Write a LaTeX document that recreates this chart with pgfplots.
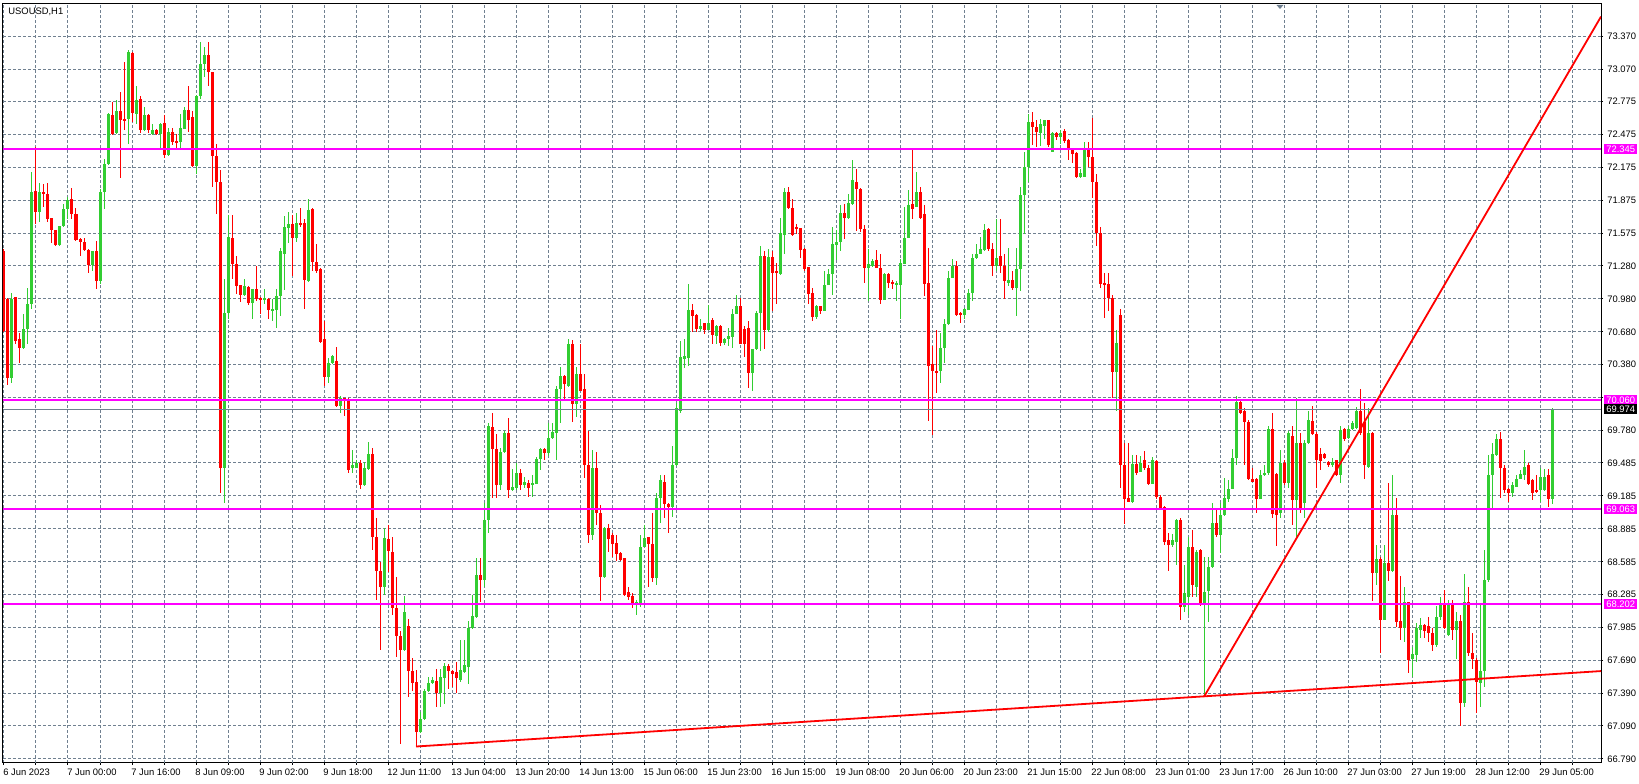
\documentclass[border=0pt]{standalone}
\usepackage{fontspec}
\setmainfont{Liberation Sans}
\usepackage{pgfplots}
\usepackage{pgfplotstable}
\pgfplotsset{compat=1.18}

\definecolor{mtgrid}{RGB}{112,128,144}
\definecolor{mtgreen}{RGB}{50,205,50}
\definecolor{mtred}{RGB}{255,0,0}
\definecolor{mtmag}{RGB}{255,0,255}

% USOUSD H1 bars: index, open, high, low, close
\pgfplotstableread{
i o h l c
0 71.412 71.435 70.674 70.687
1 70.982 70.991 70.198 70.257
2 70.257 71.036 70.212 70.982
3 70.996 71.000 70.574 70.597
4 70.619 70.674 70.393 70.529
5 70.529 70.846 70.520 70.710
6 70.710 71.082 70.574 70.937
7 70.937 72.137 70.891 71.956
8 71.965 72.364 71.661 71.775
9 71.775 72.033 71.684 71.956
10 71.956 72.024 71.820 71.933
11 71.933 72.033 71.684 71.707
12 71.716 71.720 71.489 71.607
13 71.607 71.610 71.458 71.471
14 71.471 71.645 71.465 71.639
15 71.639 71.843 71.635 71.797
16 71.797 71.911 71.707 71.879
17 71.888 71.988 71.707 71.752
18 71.752 71.806 71.503 71.516
19 71.525 71.530 71.367 71.503
20 71.503 71.534 71.420 71.426
21 71.426 71.430 71.217 71.290
22 71.290 71.415 71.231 71.412
23 71.412 71.503 71.072 71.140
24 71.140 71.979 71.118 71.956
25 71.956 72.250 71.797 72.205
26 72.205 72.668 72.196 72.659
27 72.659 72.772 72.469 72.478
28 72.487 72.795 72.480 72.695
29 72.695 72.863 72.078 72.614
30 72.614 73.135 72.514 72.605
31 72.614 73.248 72.387 73.225
32 73.216 73.225 72.591 72.668
33 72.668 72.922 72.568 72.795
34 72.804 72.831 72.487 72.514
35 72.514 72.727 72.510 72.659
36 72.659 72.668 72.487 72.514
37 72.478 72.577 72.470 72.514
38 72.514 72.523 72.470 72.478
39 72.478 72.580 72.341 72.577
40 72.577 72.659 72.259 72.287
41 72.287 72.532 72.280 72.500
42 72.500 72.532 72.378 72.409
43 72.418 72.478 72.350 72.400
44 72.409 72.668 72.350 72.532
45 72.532 72.727 72.525 72.704
46 72.704 72.922 72.500 72.614
47 72.636 72.695 72.183 72.192
48 72.192 72.840 72.114 72.831
49 72.831 73.316 72.804 73.121
50 73.121 73.270 72.999 73.202
51 73.202 73.316 72.922 73.044
52 73.044 73.050 72.001 72.282
53 72.282 72.387 71.752 72.047
54 72.047 72.151 69.214 69.441
55 69.441 71.163 69.124 70.855
56 70.855 71.743 70.801 71.548
57 71.534 71.743 71.163 71.299
58 71.299 71.367 71.027 71.095
59 71.104 71.110 70.950 71.018
60 71.018 71.163 71.004 71.095
61 71.086 71.095 70.928 70.946
62 70.946 71.075 70.801 71.072
63 71.072 71.276 70.959 70.982
64 70.991 70.995 70.846 70.973
65 70.973 71.072 70.937 70.991
66 70.982 70.986 70.801 70.878
67 70.869 70.982 70.778 70.891
68 70.878 71.072 70.719 71.004
69 71.004 71.444 70.823 71.412
70 71.390 71.739 71.063 71.639
71 71.625 71.775 71.489 71.661
72 71.661 71.743 71.190 71.534
73 71.534 71.761 71.503 71.670
74 71.670 71.806 71.635 71.652
75 71.670 71.707 70.891 71.154
76 71.140 71.888 71.135 71.788
77 71.797 71.806 71.231 71.313
78 71.313 71.480 71.217 71.231
79 71.254 71.263 70.574 70.583
80 70.610 70.778 70.189 70.266
81 70.266 70.438 70.212 70.393
82 70.393 70.474 70.385 70.461
83 70.415 70.538 70.000 70.007
84 70.007 70.098 69.940 70.075
85 70.075 70.080 69.917 70.053
86 70.062 70.075 69.396 69.419
87 69.441 69.600 69.396 69.464
88 69.441 69.509 69.435 69.487
89 69.487 69.509 69.251 69.282
90 69.282 69.496 69.275 69.441
91 69.432 69.677 69.425 69.568
92 69.568 69.622 68.693 68.816
93 68.816 68.988 68.240 68.499
94 68.499 68.580 67.786 68.354
95 68.354 68.897 68.286 68.807
96 68.798 68.920 68.489 68.680
97 68.680 68.807 68.104 68.163
98 68.163 68.444 67.719 67.909
99 67.909 67.955 66.926 67.786
100 67.786 68.272 67.773 68.127
101 68.000 68.068 67.356 67.592
102 67.592 67.710 67.411 67.483
103 67.492 67.605 66.903 67.039
104 67.039 67.220 67.030 67.152
105 67.152 67.424 67.145 67.411
106 67.411 67.537 67.405 67.483
107 67.483 67.537 67.478 67.514
108 67.501 67.605 67.265 67.388
109 67.388 67.605 67.265 67.537
110 67.528 67.664 67.288 67.637
111 67.637 67.650 67.424 67.592
112 67.592 67.597 67.447 67.560
113 67.583 67.673 67.393 67.528
114 67.514 67.877 67.492 67.605
115 67.583 67.877 67.574 67.650
116 67.628 68.045 67.469 67.981
117 67.981 68.286 67.975 68.090
118 68.081 68.625 68.075 68.467
119 68.467 68.625 68.217 68.421
120 68.421 69.124 68.354 68.965
121 68.965 69.849 68.852 69.826
122 69.813 69.940 69.169 69.613
123 69.613 69.749 69.169 69.282
124 69.282 69.622 69.237 69.586
125 69.586 69.781 69.580 69.758
126 69.758 69.894 69.169 69.237
127 69.237 69.432 69.230 69.269
128 69.260 69.487 69.237 69.396
129 69.396 69.432 69.237 69.282
130 69.282 69.359 69.260 69.314
131 69.305 69.328 69.178 69.260
132 69.282 69.373 69.178 69.305
133 69.296 69.541 69.290 69.523
134 69.523 69.622 69.419 69.609
135 69.609 69.622 69.509 69.577
136 69.577 69.849 69.554 69.713
137 69.713 69.849 69.708 69.767
138 69.758 70.189 69.509 70.157
139 70.157 70.361 69.849 70.279
140 70.279 70.285 70.066 70.202
141 70.189 70.610 70.180 70.565
142 70.565 70.610 69.858 70.021
143 70.021 70.356 69.903 70.293
144 70.293 70.565 70.140 70.143
145 70.157 70.293 69.351 69.464
146 69.464 69.781 68.761 68.829
147 68.829 69.600 68.784 69.441
148 69.441 69.586 68.920 69.033
149 69.033 69.101 68.226 68.444
150 68.444 68.906 68.440 68.897
151 68.897 68.933 68.671 68.798
152 68.829 68.852 68.625 68.752
153 68.761 68.829 68.589 68.662
154 68.662 68.671 68.589 68.603
155 68.616 68.620 68.272 68.286
156 68.308 68.354 68.240 68.263
157 68.272 68.299 68.163 68.195
158 68.195 68.240 68.104 68.217
159 68.195 68.829 68.172 68.725
160 68.725 68.920 68.720 68.807
161 68.807 68.816 68.354 68.752
162 68.752 69.033 68.399 68.435
163 68.435 69.214 68.376 69.169
164 69.169 69.373 68.943 69.328
165 69.314 69.373 68.988 69.115
166 69.115 69.120 68.852 69.088
167 69.088 69.645 68.997 69.464
168 69.464 70.030 69.459 69.985
169 69.962 70.597 69.940 70.447
170 70.438 70.619 70.347 70.461
171 70.447 71.118 70.370 70.882
172 70.882 70.937 70.674 70.823
173 70.837 70.840 70.674 70.710
174 70.710 70.801 70.687 70.733
175 70.756 70.765 70.665 70.701
176 70.701 70.928 70.695 70.765
177 70.792 70.810 70.574 70.656
178 70.642 70.740 70.574 70.733
179 70.733 70.740 70.551 70.574
180 70.574 70.625 70.560 70.619
181 70.619 70.719 70.551 70.642
182 70.628 70.891 70.529 70.846
183 70.846 71.018 70.840 70.914
184 70.914 70.991 70.565 70.574
185 70.710 70.733 70.447 70.574
186 70.719 70.778 70.166 70.302
187 70.302 70.525 70.143 70.520
188 70.520 70.869 70.515 70.855
189 70.855 71.467 70.506 71.367
190 71.367 71.412 70.520 70.701
191 70.701 71.435 70.674 71.358
192 71.358 71.412 70.869 71.217
193 71.231 71.308 70.937 71.217
194 71.208 71.716 71.195 71.580
195 71.562 71.988 71.390 71.956
196 71.956 72.001 71.797 71.806
197 71.806 71.888 71.548 71.562
198 71.639 71.661 71.571 71.616
199 71.625 71.630 71.353 71.426
200 71.435 71.444 71.231 71.254
201 71.267 71.270 70.937 71.027
202 71.036 71.082 70.778 70.810
203 70.810 70.920 70.801 70.914
204 70.914 70.920 70.846 70.869
205 70.869 71.231 70.865 71.109
206 71.109 71.254 71.104 71.208
207 71.208 71.639 71.018 71.480
208 71.471 71.607 71.335 71.503
209 71.503 71.834 71.412 71.761
210 71.761 71.843 71.525 71.716
211 71.716 71.933 71.710 71.852
212 71.843 72.242 71.838 72.060
213 72.047 72.160 71.594 71.979
214 71.979 71.988 71.594 71.616
215 71.616 71.652 71.127 71.263
216 71.263 71.435 70.959 71.299
217 71.276 71.344 71.270 71.322
218 71.335 71.426 71.258 71.263
219 71.263 71.390 70.937 70.973
220 70.973 71.215 70.968 71.208
221 71.208 71.217 71.082 71.127
222 71.136 71.154 71.072 71.118
223 71.109 71.140 70.959 71.127
224 71.109 71.344 70.801 71.308
225 71.299 71.820 71.295 71.534
226 71.534 71.970 71.530 71.834
227 71.843 72.341 71.707 71.797
228 71.820 72.137 71.815 71.956
229 71.956 72.001 71.712 71.716
230 71.752 71.834 71.004 71.118
231 71.127 71.444 69.872 70.370
232 70.384 70.551 69.736 70.325
233 70.325 70.701 70.121 70.311
234 70.325 70.665 70.212 70.529
235 70.529 70.801 70.393 70.747
236 70.747 71.231 70.742 71.172
237 71.172 71.344 71.168 71.276
238 71.276 71.322 70.823 70.837
239 70.855 70.860 70.765 70.837
240 70.837 70.895 70.801 70.891
241 70.882 71.072 70.878 71.036
242 71.036 71.390 70.959 71.353
243 71.353 71.480 71.348 71.390
244 71.390 71.548 71.385 71.435
245 71.426 71.661 71.420 71.607
246 71.616 71.625 71.412 71.435
247 71.435 71.489 71.190 71.276
248 71.276 71.707 71.231 71.353
249 71.367 71.707 71.217 71.276
250 71.276 71.390 70.982 71.140
251 71.127 71.444 71.095 71.154
252 71.154 71.231 71.063 71.082
253 71.082 71.444 70.823 71.254
254 71.254 72.001 71.050 71.924
255 71.924 72.319 71.571 72.183
256 72.183 72.659 72.047 72.591
257 72.591 72.681 72.378 72.545
258 72.545 72.614 72.364 72.500
259 72.487 72.614 72.373 72.568
260 72.559 72.614 72.432 72.605
261 72.605 72.614 72.364 72.378
262 72.319 72.500 72.315 72.487
263 72.487 72.500 72.427 72.455
264 72.455 72.514 72.387 72.487
265 72.514 72.523 72.396 72.423
266 72.423 72.432 72.242 72.332
267 72.350 72.355 72.215 72.296
268 72.305 72.319 72.078 72.092
269 72.092 72.160 72.078 72.124
270 72.092 72.409 72.088 72.350
271 72.350 72.409 72.183 72.273
272 72.273 72.622 71.897 72.047
273 72.047 72.114 71.458 71.580
274 71.580 71.639 71.082 71.118
275 71.127 71.217 70.810 71.109
276 71.118 71.217 70.869 70.991
277 70.991 71.018 70.075 70.311
278 70.311 70.701 69.962 70.574
279 70.837 70.891 69.260 69.464
280 69.464 69.668 68.933 69.160
281 69.169 69.668 69.130 69.133
282 69.133 69.554 69.124 69.478
283 69.478 69.554 69.373 69.396
284 69.405 69.554 69.400 69.487
285 69.509 69.600 69.419 69.441
286 69.441 69.464 69.282 69.296
287 69.296 69.541 69.290 69.509
288 69.509 69.515 69.155 69.178
289 69.178 69.192 69.056 69.079
290 69.088 69.092 68.739 68.770
291 68.784 68.852 68.507 68.739
292 68.739 68.843 68.716 68.784
293 68.761 68.979 68.553 68.965
294 68.965 68.988 68.059 68.172
295 68.172 68.557 68.127 68.299
296 68.263 68.807 68.104 68.716
297 68.716 68.874 68.263 68.376
298 68.354 68.693 68.263 68.671
299 68.693 68.700 68.181 68.195
300 68.195 68.625 67.356 68.308
301 68.317 68.625 68.036 68.535
302 68.535 69.124 68.530 68.943
303 68.943 69.056 68.816 68.829
304 68.829 69.124 68.671 69.010
305 69.010 69.350 69.005 69.169
306 69.160 69.328 69.133 69.251
307 69.251 69.613 69.245 69.532
308 69.532 70.098 69.464 70.039
309 70.039 70.053 69.931 69.940
310 69.962 69.985 69.464 69.858
311 69.858 69.872 69.328 69.342
312 69.342 69.441 69.310 69.314
313 69.342 69.350 69.033 69.160
314 69.160 69.419 69.155 69.373
315 69.373 69.464 69.368 69.396
316 69.396 69.826 69.373 69.795
317 69.795 69.940 68.988 69.024
318 69.387 69.396 68.725 69.010
319 69.033 69.600 68.988 69.487
320 69.487 69.509 69.282 69.305
321 69.305 69.781 69.260 69.758
322 69.736 69.826 68.920 69.146
323 69.146 70.075 68.807 69.668
324 69.668 69.758 69.033 69.079
325 69.124 69.690 68.988 69.668
326 69.668 69.962 69.660 69.872
327 69.872 70.007 69.745 69.749
328 69.749 69.767 69.260 69.509
329 69.568 69.622 69.419 69.509
330 69.568 69.577 69.523 69.532
331 69.496 69.500 69.450 69.464
332 69.464 69.532 69.450 69.496
333 69.509 69.515 69.368 69.373
334 69.373 69.826 69.305 69.781
335 69.795 69.804 69.690 69.704
336 69.713 69.826 69.708 69.795
337 69.795 69.872 69.790 69.849
338 69.804 69.994 69.800 69.962
339 69.962 70.157 69.736 69.758
340 69.858 70.030 69.342 69.464
341 69.450 69.985 69.441 69.758
342 69.758 69.767 68.226 68.480
343 68.480 68.738 68.376 68.616
344 68.616 68.625 67.755 68.059
345 68.059 68.738 68.055 68.571
346 68.571 69.305 68.408 68.499
347 68.499 69.373 68.489 69.010
348 69.010 69.169 67.991 68.036
349 68.045 68.453 67.877 67.981
350 67.981 68.354 67.855 68.217
351 68.217 68.220 67.574 67.696
352 67.696 67.809 67.537 67.741
353 67.741 68.027 67.673 67.981
354 67.968 68.072 67.891 68.013
355 68.013 68.020 67.891 67.955
356 68.000 68.081 67.855 67.936
357 67.936 67.981 67.773 67.832
358 67.832 68.181 67.809 68.081
359 68.081 68.263 68.059 68.195
360 68.195 68.331 67.977 67.981
361 67.923 68.240 67.909 68.208
362 68.208 68.240 67.877 67.968
363 67.968 68.127 67.696 68.045
364 68.045 68.104 67.093 67.302
365 67.302 68.480 67.265 68.217
366 68.217 68.354 67.728 67.755
367 67.755 67.936 67.605 67.696
368 67.696 67.710 67.211 67.492
369 67.483 68.208 67.265 67.592
370 67.592 68.693 67.447 68.421
371 68.421 69.554 68.399 69.373
372 69.373 69.668 69.056 69.568
373 69.554 69.749 69.550 69.704
374 69.704 69.767 69.169 69.441
375 69.441 69.464 69.214 69.237
376 69.251 69.260 69.133 69.214
377 69.214 69.314 69.178 69.282
378 69.269 69.373 69.265 69.342
379 69.342 69.419 69.337 69.387
380 69.373 69.600 69.328 69.450
381 69.464 69.487 69.282 69.296
382 69.328 69.342 69.146 69.214
383 69.237 69.373 69.214 69.223
384 69.237 69.441 69.133 69.359
385 69.237 69.432 69.230 69.359
386 69.373 69.432 69.088 69.160
387 69.160 69.985 69.115 69.974
}\candles

\pgfplotsset{
  candle/.style n args={3}{draw=none, no markers, forget plot,
    restrict expr to domain={\thisrow{c}-\thisrow{o}}{#2},
    error bars/.cd, y dir=both, y explicit, error mark=none,
    error bar style={draw=#1, line width=#3}},
}

\begin{document}
\begin{tikzpicture}[font=\fontsize{4.7}{5.6}\selectfont]
\begin{axis}[
  scale only axis,
  width=799pt, height=379.5pt,
  xmin=-0.25, xmax=399.25,
  ymin=66.753, ymax=73.665,
  axis line style={black, line width=0.5pt},
  tick align=outside,
  xtick pos=bottom, ytick pos=right,
  yticklabel pos=right,
  major tick length=1pt,
  tick style={black, line width=0.5pt},
  grid=major,
  major grid style={mtgrid, line width=0.5pt, dash pattern=on 1.5pt off 1pt},
  xtick={0,16,...,384},
  xticklabels={6 Jun 2023, 7 Jun 00:00, 7 Jun 16:00, 8 Jun 09:00, 9 Jun 02:00, 9 Jun 18:00,
    12 Jun 11:00, 13 Jun 04:00, 13 Jun 20:00, 14 Jun 13:00, 15 Jun 06:00, 15 Jun 23:00,
    16 Jun 15:00, 19 Jun 08:00, 20 Jun 06:00, 20 Jun 23:00, 21 Jun 15:00, 22 Jun 08:00,
    23 Jun 01:00, 23 Jun 17:00, 26 Jun 10:00, 27 Jun 03:00, 27 Jun 19:00, 28 Jun 12:00,
    29 Jun 05:00},
  extra x ticks={8,24,...,392},
  extra x tick labels={},
  extra x tick style={grid=major},
  ytick={66.790,67.090,67.390,67.690,67.985,68.285,68.585,68.885,69.185,69.485,69.780,
    70.380,70.680,70.980,71.280,71.575,71.875,72.175,72.475,72.775,73.070,73.370},
  yticklabels={66.790,67.090,67.390,67.690,67.985,68.285,68.585,68.885,69.185,69.485,69.780,
    70.380,70.680,70.980,71.280,71.575,71.875,72.175,72.475,72.775,73.070,73.370},
  extra y ticks={70.080},
  extra y tick labels={},
  extra y tick style={grid=major},
  xticklabel style={anchor=north west, inner sep=0pt, xshift=-0.5pt, yshift=-2pt},
  yticklabel style={anchor=west, inner sep=0pt, xshift=2pt},
]

% up bars: wicks, then bodies
\addplot[candle={mtgreen}{0:100}{0.5pt}]
  table[x=i, y expr={(\thisrow{h}+\thisrow{l})/2}, y error expr={(\thisrow{h}-\thisrow{l})/2}] {\candles};
\addplot[candle={mtgreen}{0:100}{1.5pt}]
  table[x=i, y expr={(\thisrow{o}+\thisrow{c})/2}, y error expr={max(abs(\thisrow{c}-\thisrow{o})/2,0.006)}] {\candles};
% down bars
\addplot[candle={mtred}{-100:-0.0001}{0.5pt}]
  table[x=i, y expr={(\thisrow{h}+\thisrow{l})/2}, y error expr={(\thisrow{h}-\thisrow{l})/2}] {\candles};
\addplot[candle={mtred}{-100:-0.0001}{1.5pt}]
  table[x=i, y expr={(\thisrow{o}+\thisrow{c})/2}, y error expr={max(abs(\thisrow{c}-\thisrow{o})/2,0.006)}] {\candles};

% levels
\addplot[mtmag, line width=1pt] coordinates {(-0.25,72.345) (399.25,72.345)};
\addplot[mtmag, line width=1pt] coordinates {(-0.25,70.060) (399.25,70.060)};
\addplot[mtmag, line width=1pt] coordinates {(-0.25,69.063) (399.25,69.063)};
\addplot[mtmag, line width=1pt] coordinates {(-0.25,68.202) (399.25,68.202)};
\addplot[mtgrid, line width=0.5pt] coordinates {(-0.25,69.974) (399.25,69.974)};

% trend lines
\addplot[mtred, line width=0.9pt] coordinates {(103,66.903) (399.25,67.590)};
\addplot[mtred, line width=0.9pt] coordinates {(300,67.356) (399.25,73.550)};

\coordinate (m1) at (axis cs:399.25,72.345);
\coordinate (m2) at (axis cs:399.25,70.060);
\coordinate (m3) at (axis cs:399.25,69.063);
\coordinate (m4) at (axis cs:399.25,68.202);
\coordinate (cp) at (axis cs:399.25,69.974);
\coordinate (sh) at (axis cs:319,73.665);
\end{axis}

\foreach \p/\t in {m1/72.345, m2/70.060, m3/69.063, m4/68.202}
  \node[fill=mtmag, text=white, anchor=west, inner xsep=1pt, inner ysep=0pt,
        minimum height=5pt, xshift=1.5pt] at (\p) {\t};
\node[fill=black, text=white, anchor=west, inner xsep=1pt, inner ysep=0pt,
      minimum height=5pt, xshift=1.5pt] at (cp) {69.974};

\fill[mtgrid] ([xshift=-1.75pt,yshift=-0.5pt]sh) -- ([xshift=1.75pt,yshift=-0.5pt]sh) -- ([yshift=-2.5pt]sh) -- cycle;

\node[anchor=north west, inner sep=0pt, xshift=2.5pt, yshift=-2pt] at (current axis.north west) {USOUSD,H1};

\pgfresetboundingbox
\path ([xshift=-1.5pt,yshift=-10.5pt]current axis.south west) rectangle ([xshift=19pt,yshift=2pt]current axis.north east);
\end{tikzpicture}
\end{document}
